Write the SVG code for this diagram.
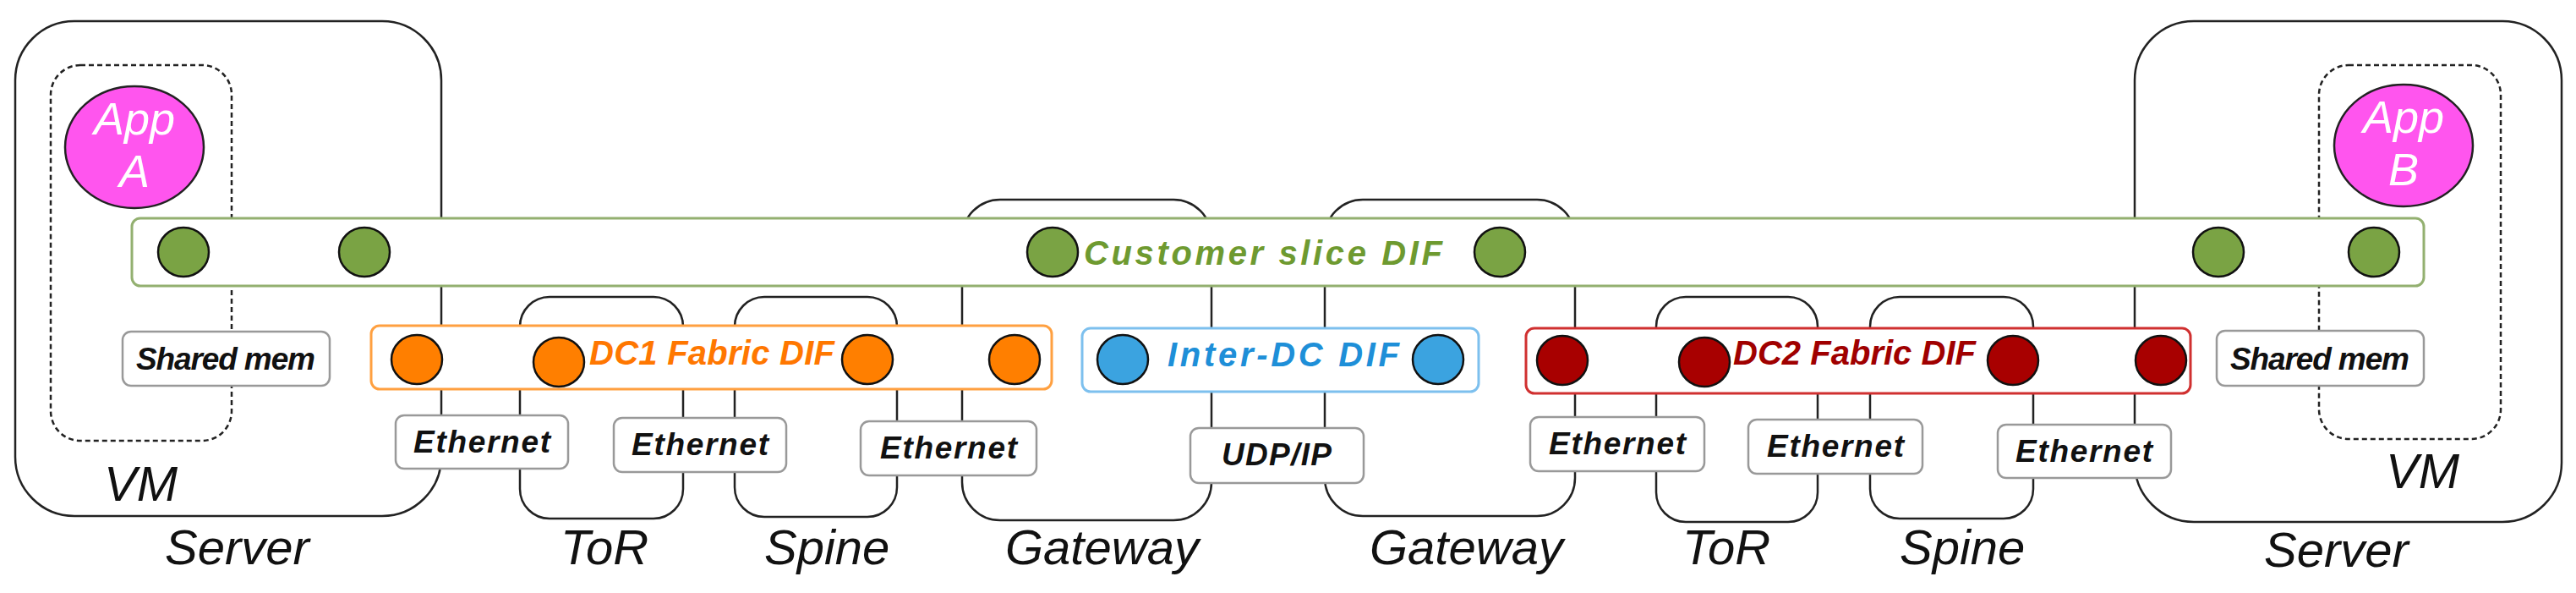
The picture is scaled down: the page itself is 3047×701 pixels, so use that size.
<svg xmlns="http://www.w3.org/2000/svg" width="3047" height="701" viewBox="0 0 3047 701">
<style>
.box{fill:none;stroke:#222;stroke-width:2.5}
.vm{fill:none;stroke:#222;stroke-width:2.5;stroke-dasharray:6,4}
.lbl{font-family:"Liberation Sans",Arial,sans-serif;font-style:italic;font-size:58px;fill:#111}
.proto{fill:#fff;stroke:#999;stroke-width:2.5}
.pt{font-family:"Liberation Sans",Arial,sans-serif;font-style:italic;font-weight:bold;font-size:37px;fill:#111;text-anchor:middle}
.dif{font-family:"Liberation Sans",Arial,sans-serif;font-style:italic;font-weight:bold;font-size:40px}
.g{fill:#7AA344;stroke:#111;stroke-width:2.5}
.o{fill:#FF7F00;stroke:#111;stroke-width:2.5}
.b{fill:#3BA3E0;stroke:#111;stroke-width:2.5}
.r{fill:#A80000;stroke:#111;stroke-width:2.5}
.app{fill:#FF55EE;stroke:#222;stroke-width:2.5}
.at{font-family:"Liberation Sans",Arial,sans-serif;font-style:italic;font-size:54px;fill:#fff;text-anchor:middle}
</style>
<rect width="3047" height="701" fill="#fff"/>
<g id="server1"><rect class="box" x="18" y="25" width="504" height="585" rx="70"/><text class="lbl" x="195" y="667">Server</text></g>
<g id="vm1"><rect class="vm" x="60" y="77" width="214" height="444" rx="35"/><text class="lbl" x="123" y="592">VM</text></g>
<g id="tor1"><rect class="box" x="615" y="351" width="193" height="262" rx="35"/><text class="lbl" x="663" y="667">ToR</text></g>
<g id="spine1"><rect class="box" x="869" y="351" width="192" height="260" rx="35"/><text class="lbl" x="904" y="667">Spine</text></g>
<g id="gw1"><rect class="box" x="1138" y="236" width="295" height="379" rx="45"/><text class="lbl" x="1189" y="667">Gateway</text></g>
<g id="gw2"><rect class="box" x="1567" y="236" width="296" height="374" rx="45"/><text class="lbl" x="1620" y="667">Gateway</text></g>
<g id="tor2"><rect class="box" x="1959" y="351" width="191" height="266" rx="35"/><text class="lbl" x="1990" y="667">ToR</text></g>
<g id="spine2"><rect class="box" x="2212" y="351" width="193" height="262" rx="35"/><text class="lbl" x="2247" y="667">Spine</text></g>
<g id="server2"><rect class="box" x="2525" y="25" width="505" height="592" rx="70"/><text class="lbl" x="2678" y="670">Server</text></g>
<g id="vm2"><rect class="vm" x="2743" y="77" width="215" height="442" rx="35"/><text class="lbl" x="2822" y="577">VM</text></g>
<g id="appA"><ellipse class="app" cx="159" cy="174" rx="82" ry="72"/><text class="at" x="159" y="159">App</text><text class="at" x="159" y="221">A</text></g>
<g id="appB"><ellipse class="app" cx="2843" cy="172" rx="82" ry="72"/><text class="at" x="2843" y="157">App</text><text class="at" x="2843" y="219">B</text></g>
<g id="customer-dif">
<rect x="156" y="258" width="2711" height="80" rx="10" fill="#fff" stroke="#93B070" stroke-width="3"/>
<ellipse class="g" cx="217" cy="298" rx="30" ry="29"/><ellipse class="g" cx="431" cy="298" rx="30" ry="29"/>
<ellipse class="g" cx="1245" cy="298" rx="30" ry="29"/><ellipse class="g" cx="1774" cy="298" rx="30" ry="29"/>
<ellipse class="g" cx="2624" cy="298" rx="30" ry="29"/><ellipse class="g" cx="2808" cy="298" rx="30" ry="29"/>
<text class="dif" x="1282" y="313" fill="#6E9A30" textLength="424">Customer slice DIF</text>
</g>
<g id="dc1-dif">
<rect x="439" y="385" width="805" height="75" rx="10" fill="#fff" stroke="#FFA040" stroke-width="3"/>
<ellipse class="o" cx="493" cy="425" rx="30" ry="29"/><ellipse class="o" cx="661" cy="428" rx="30" ry="29"/>
<ellipse class="o" cx="1026" cy="425" rx="30" ry="29"/><ellipse class="o" cx="1200" cy="425" rx="30" ry="29"/>
<text class="dif" x="697" y="431" fill="#FF7700" textLength="290">DC1 Fabric DIF</text>
</g>
<g id="interdc-dif">
<rect x="1280" y="388" width="469" height="75" rx="10" fill="#fff" stroke="#7DC0EE" stroke-width="3"/>
<ellipse class="b" cx="1328" cy="425" rx="30" ry="29"/><ellipse class="b" cx="1701" cy="425" rx="30" ry="29"/>
<text class="dif" x="1381" y="433" fill="#1E8FD8" textLength="274">Inter-DC DIF</text>
</g>
<g id="dc2-dif">
<rect x="1805" y="388" width="786" height="77" rx="10" fill="#fff" stroke="#D03030" stroke-width="3"/>
<ellipse class="r" cx="1848" cy="426" rx="30" ry="29"/><ellipse class="r" cx="2016" cy="428" rx="30" ry="29"/>
<ellipse class="r" cx="2381" cy="426" rx="30" ry="29"/><ellipse class="r" cx="2556" cy="426" rx="30" ry="29"/>
<text class="dif" x="2050" y="431" fill="#A00000" textLength="287">DC2 Fabric DIF</text>
</g>
<g id="connectors"></g>
<g id="shm1"><rect class="proto" x="145" y="392" width="245" height="64" rx="10"/><text class="pt" x="267" y="437" font-size="34" textLength="212">Shared mem</text></g>
<g id="shm2"><rect class="proto" x="2622" y="391" width="245" height="65" rx="10"/><text class="pt" x="2744" y="437" font-size="34" textLength="212">Shared mem</text></g>
<g id="eth1"><rect class="proto" x="468" y="491" width="204" height="63" rx="10"/><text class="pt" x="570" y="535" textLength="162">Ethernet</text></g>
<g id="eth2"><rect class="proto" x="726" y="494" width="204" height="64" rx="10"/><text class="pt" x="828" y="538" textLength="162">Ethernet</text></g>
<g id="eth3"><rect class="proto" x="1018" y="498" width="208" height="64" rx="10"/><text class="pt" x="1122" y="542" textLength="162">Ethernet</text></g>
<g id="udp"><rect class="proto" x="1408" y="506" width="205" height="65" rx="10"/><text class="pt" x="1510" y="550" textLength="130">UDP/IP</text></g>
<g id="eth4"><rect class="proto" x="1810" y="493" width="206" height="64" rx="10"/><text class="pt" x="1913" y="537" textLength="162">Ethernet</text></g>
<g id="eth5"><rect class="proto" x="2068" y="496" width="206" height="64" rx="10"/><text class="pt" x="2171" y="540" textLength="162">Ethernet</text></g>
<g id="eth6"><rect class="proto" x="2363" y="502" width="205" height="63" rx="10"/><text class="pt" x="2465" y="546" textLength="162">Ethernet</text></g>
</svg>
